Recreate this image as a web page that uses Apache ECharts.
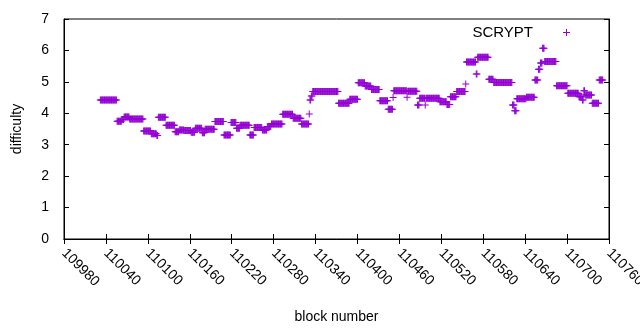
<!DOCTYPE html>
<html>
<head>
<meta charset="utf-8">
<script src="https://cdn.jsdelivr.net/npm/echarts@6/dist/echarts.min.js"></script>
<style>
    html, body { margin: 0; padding: 0; background: #fff; }
    #chart { width: 640px; height: 330px; }
</style>
</head>
<body>
<div id="chart"></div>
<script>
// runs of constant difficulty: [first block, last block, difficulty]
var difficultyRuns = [
    [110032, 110055, 4.42], [110056, 110062, 3.75], [110063, 110065, 3.80],
    [110066, 110073, 3.88], [110074, 110093, 3.82], [110094, 110104, 3.44],
    [110105, 110112, 3.35], [110113, 110114, 3.29], [110115, 110125, 3.87],
    [110126, 110138, 3.62], [110139, 110144, 3.41], [110145, 110151, 3.47],
    [110152, 110161, 3.45], [110162, 110167, 3.40], [110168, 110177, 3.52],
    [110178, 110181, 3.38], [110182, 110195, 3.49], [110196, 110208, 3.74],
    [110209, 110218, 3.31], [110219, 110226, 3.71], [110227, 110231, 3.52],
    [110232, 110245, 3.62], [110246, 110251, 3.31], [110252, 110263, 3.55],
    [110264, 110270, 3.47], [110271, 110276, 3.58], [110277, 110292, 3.66],
    [110293, 110307, 3.97], [110308, 110319, 3.84], [110320, 110330, 3.66],
    [110331, 110331, 3.98], [110332, 110333, 4.42], [110334, 110335, 4.55],
    [110336, 110372, 4.69], [110373, 110388, 4.32], [110389, 110400, 4.45],
    [110401, 110410, 4.97], [110411, 110419, 4.87], [110420, 110431, 4.76],
    [110432, 110443, 4.40], [110444, 110450, 4.13], [110451, 110451, 4.50],
    [110452, 110470, 4.72], [110471, 110471, 4.51], [110472, 110485, 4.70],
    [110486, 110488, 4.26], [110489, 110496, 4.48], [110497, 110497, 4.26],
    [110498, 110517, 4.48], [110518, 110527, 4.37], [110528, 110532, 4.28],
    [110533, 110541, 4.53], [110542, 110554, 4.69], [110555, 110555, 4.93],
    [110556, 110569, 5.63], [110570, 110571, 5.25], [110572, 110587, 5.78],
    [110588, 110594, 5.08], [110595, 110621, 4.98], [110622, 110624, 4.26],
    [110625, 110627, 4.08], [110628, 110641, 4.46], [110642, 110653, 4.51],
    [110654, 110658, 5.06], [110659, 110661, 5.40], [110662, 110664, 5.60],
    [110665, 110667, 6.07], [110668, 110684, 5.65], [110685, 110700, 4.88],
    [110701, 110716, 4.64], [110717, 110721, 4.53], [110722, 110723, 4.42],
    [110724, 110725, 4.72], [110726, 110735, 4.58], [110736, 110745, 4.32],
    [110746, 110751, 5.06]
];
var seriesName = 'SCRYPT';

// one point per block
var points = [];
difficultyRuns.forEach(function (run) {
    for (var b = run[0]; b <= run[1]; b++) {
        points.push([b, run[2]]);
    }
});

var plus = 'path://M0,3H3V0H4V3H7V4H4V7H3V4H0Z';
var font = 'Liberation Sans, Arial, sans-serif';

var tickAxis = {
    axisLine: { show: true, lineStyle: { color: '#000', width: 1 } },
    axisTick: { show: true, inside: true, length: 5, lineStyle: { color: '#000' } },
    splitLine: { show: false }
};

var option = {
    animation: false,
    grid: {
        left: 64, right: 31, top: 19, bottom: 91,
        outerBoundsMode: 'none',
        containLabel: false,
        show: true, borderColor: '#000', borderWidth: 1
    },
    legend: {
        data: [seriesName],
        right: 65,
        top: 20,
        align: 'right',
        icon: plus,
        itemWidth: 7,
        itemHeight: 7,
        textStyle: { color: '#000', fontFamily: font, fontSize: 15, padding: [0, 25, 0, 0] }
    },
    xAxis: [
        Object.assign({}, tickAxis, {
            type: 'value',
            min: 109980, max: 110760, interval: 60,
            name: 'block number',
            nameLocation: 'middle',
            nameGap: 71,
            nameTextStyle: { color: '#000', fontFamily: font, fontSize: 14 },
            axisLabel: {
                rotate: -45, margin: 12, color: '#000', fontFamily: font, fontSize: 14,
                formatter: function (v) { return String(v); }
            }
        }),
        Object.assign({}, tickAxis, {
            type: 'value', position: 'top',
            min: 109980, max: 110760, interval: 60,
            axisLabel: { show: false }
        })
    ],
    yAxis: [
        Object.assign({}, tickAxis, {
            type: 'value',
            min: 0, max: 7, interval: 1,
            name: 'difficulty',
            nameLocation: 'middle',
            nameGap: 40,
            nameTextStyle: { color: '#000', fontFamily: font, fontSize: 14 },
            axisLabel: { margin: 15, color: '#000', fontFamily: font, fontSize: 14 }
        }),
        Object.assign({}, tickAxis, {
            type: 'value', position: 'right',
            min: 0, max: 7, interval: 1,
            axisLabel: { show: false }
        })
    ],
    series: [{
        name: seriesName,
        type: 'scatter',
        symbol: plus,
        symbolSize: 7,
        itemStyle: { color: '#9400d3', opacity: 1 },
        emphasis: { disabled: true },
        data: points
    }]
};

var myChart = echarts.init(document.getElementById('chart'));
myChart.setOption(option);
</script>
</body>
</html>
